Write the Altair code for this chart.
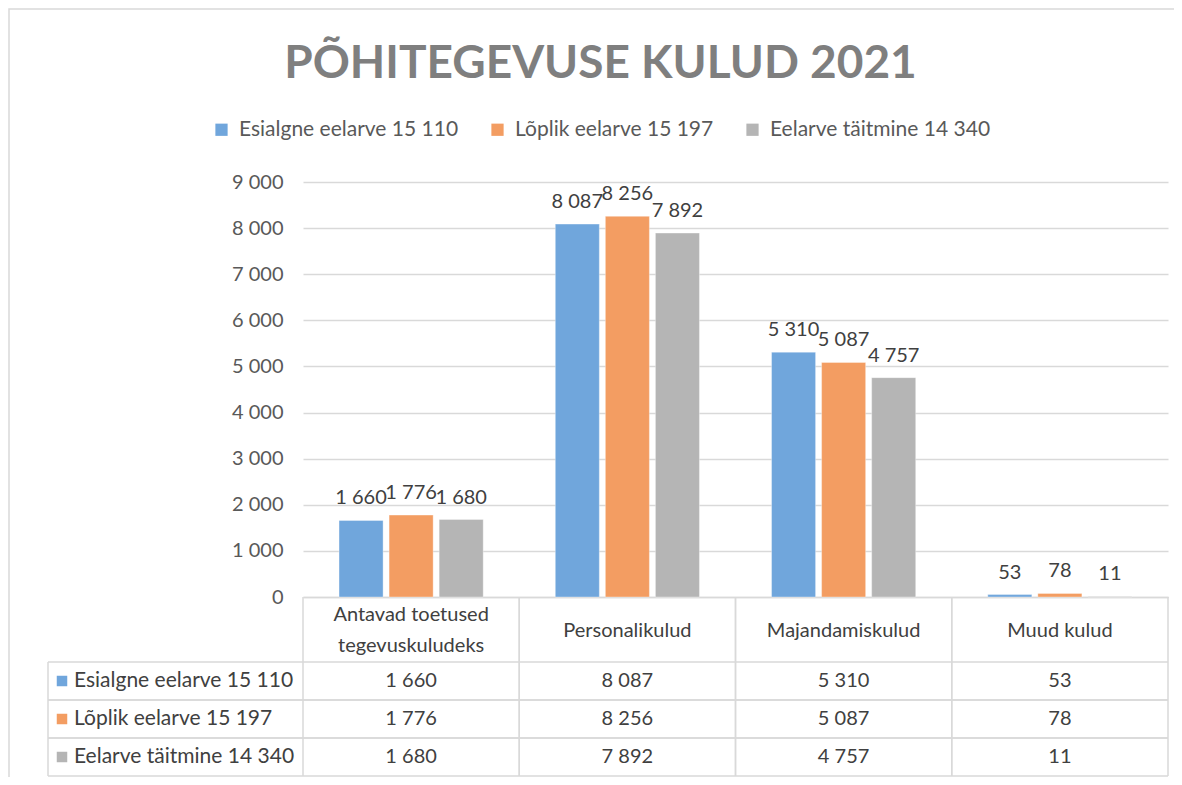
import altair as alt
import pandas as pd

# ---- data ----
categories = ["Antavad toetused|tegevuskuludeks", "Personalikulud", "Majandamiskulud", "Muud kulud"]
series = ["Esialgne eelarve 15 110", "Lõplik eelarve 15 197", "Eelarve täitmine 14 340"]
esialgne = [1660, 8087, 5310, 53]
loplik = [1776, 8256, 5087, 78]
taitmine = [1680, 7892, 4757, 11]
colors = ["#70A6DC", "#F39D62", "#B5B5B5"]
y_ticks = [0, 1000, 2000, 3000, 4000, 5000, 6000, 7000, 8000, 9000]
title_text = "PÕHITEGEVUSE KULUD 2021"


def fmt(v):
    return f"{v:,}".replace(",", " ")


rows = []
for s, vals in zip(series, [esialgne, loplik, taitmine]):
    for c, v in zip(categories, vals):
        rows.append({"kategooria": c, "seeria": s, "vaartus": v, "silt": fmt(v)})
df = pd.DataFrame(rows)
cat_df = pd.DataFrame({"kategooria": categories})
ser_df = pd.DataFrame({"seeria": series})
one_df = pd.DataFrame({"k": [0]})

W, H = 865, 415
FONT = "Lato"
GRID = "#D9D9D9"
TXT = "#404040"

x_scale = alt.Scale(domain=categories, paddingInner=0, paddingOuter=0)
y_scale = alt.Scale(domain=[0, 9000], nice=False, zero=True)
color_scale = alt.Scale(domain=series, range=colors)
row_scale = alt.Scale(type="band", domain=series, range=[480, 594], paddingInner=0, paddingOuter=0)
offset_scale = alt.Scale(domain=series, paddingInner=0.12, paddingOuter=0.72)

border = alt.Chart(one_df).mark_rect(fillOpacity=0, stroke=GRID, strokeWidth=1.5).encode(
    x=alt.value(-294), x2=alt.value(W + 60), y=alt.value(-173), y2=alt.value(H + 300)
)

bars = alt.Chart(df).mark_bar(stroke="white", strokeOpacity=0.35, strokeWidth=1).encode(
    x=alt.X("kategooria:N", scale=x_scale, sort=categories,
            axis=alt.Axis(labels=False, ticks=False, domain=True, domainColor=GRID,
                          domainWidth=1.5, title=None, grid=False)),
    xOffset=alt.XOffset("seeria:N", sort=series, scale=offset_scale),
    y=alt.Y("vaartus:Q", scale=y_scale,
            axis=alt.Axis(values=y_ticks, title=None, domain=False, ticks=False,
                          labelPadding=20, labelFontSize=20, labelColor="#595959", labelFont=FONT,
                          gridColor=GRID, gridWidth=1.3,
                          labelExpr="replace(format(datum.value, ','), ',', ' ')")),
    color=alt.Color("seeria:N", scale=color_scale, sort=series,
                    legend=alt.Legend(orient="none", legendX=-92, legendY=-63, direction="horizontal",
                                      title=None, symbolType="square", symbolSize=150,
                                      symbolStrokeWidth=0, labelFontSize=21, labelFont=FONT,
                                      labelColor="#595959", columnPadding=28, labelOffset=7,
                                      labelLimit=400)),
)

labels = alt.Chart(df).mark_text(baseline="alphabetic", dy=-16, fontSize=20, color=TXT, font=FONT).encode(
    x=alt.X("kategooria:N", scale=x_scale, sort=categories),
    xOffset=alt.XOffset("seeria:N", sort=series, scale=offset_scale),
    y=alt.Y("vaartus:Q", scale=y_scale, axis=None),
    text="silt:N",
)

# ---- data table under the chart ----
vlines_start = alt.Chart(cat_df).mark_rule(color=GRID, strokeWidth=1.5).encode(
    x=alt.X("kategooria:N", scale=x_scale, sort=categories, bandPosition=0),
    y=alt.value(H), y2=alt.value(594),
)
vlines_end = alt.Chart(cat_df).mark_rule(color=GRID, strokeWidth=1.5).encode(
    x=alt.X("kategooria:N", scale=x_scale, sort=categories, bandPosition=1),
    y=alt.value(H), y2=alt.value(594),
)
hlines_top = alt.Chart(ser_df).mark_rule(color=GRID, strokeWidth=1.5).encode(
    y=alt.Y("seeria:N", scale=row_scale, sort=series, bandPosition=0, axis=None),
    x=alt.value(-255), x2=alt.value(W),
)
hlines_bot = alt.Chart(ser_df).mark_rule(color=GRID, strokeWidth=1.5).encode(
    y=alt.Y("seeria:N", scale=row_scale, sort=series, bandPosition=1, axis=None),
    x=alt.value(-255), x2=alt.value(W),
)
left_line = alt.Chart(one_df).mark_rule(color=GRID, strokeWidth=1.5).encode(
    x=alt.value(-255), y=alt.value(480), y2=alt.value(594)
)

header_single = alt.Chart(cat_df).transform_filter(
    "indexof(datum.kategooria, '|') < 0"
).mark_text(baseline="middle", fontSize=20, color=TXT, font=FONT).encode(
    x=alt.X("kategooria:N", scale=x_scale, sort=categories),
    y=alt.value(H + 34),
    text="kategooria:N",
)
header_multi = alt.Chart(cat_df).transform_filter(
    "indexof(datum.kategooria, '|') >= 0"
).mark_text(baseline="middle", fontSize=20, color=TXT, font=FONT, lineBreak="|", lineHeight=31).encode(
    x=alt.X("kategooria:N", scale=x_scale, sort=categories),
    y=alt.value(H + 34 - 16),
    text="kategooria:N",
)

cells = alt.Chart(df).mark_text(baseline="middle", fontSize=20, color=TXT, font=FONT).encode(
    x=alt.X("kategooria:N", scale=x_scale, sort=categories),
    y=alt.Y("seeria:N", scale=row_scale, sort=series, axis=None),
    text="silt:N",
)

row_names = alt.Chart(ser_df).mark_text(align="left", baseline="middle", fontSize=21, color=TXT,
                                         font=FONT).encode(
    x=alt.value(-229),
    y=alt.Y("seeria:N", scale=row_scale, sort=series, axis=None),
    text="seeria:N",
)

swatches = alt.Chart(ser_df).mark_square(size=110, opacity=1).encode(
    x=alt.value(-241),
    y=alt.Y("seeria:N", scale=row_scale, sort=series, axis=None),
    color=alt.Color("seeria:N", scale=color_scale, sort=series, legend=None),
)

chart = alt.layer(
    border, bars, labels, vlines_start, vlines_end, hlines_top, hlines_bot, left_line,
    header_single, header_multi, cells, row_names, swatches,
).resolve_scale(y="independent").properties(
    width=W, height=H,
    autosize=alt.AutoSizeParams(type="none"),
    padding={"left": 295, "top": 174, "right": 6, "bottom": 180},
    title=alt.TitleParams(title_text, fontSize=46, font=FONT, fontWeight="bold", color="#7F7F7F",
                          anchor="middle", dx=-135, offset=-80),
).configure(font=FONT, background="white").configure_view(stroke=None)

chart.save("out.html", embed_options={"renderer": "svg", "actions": False})
